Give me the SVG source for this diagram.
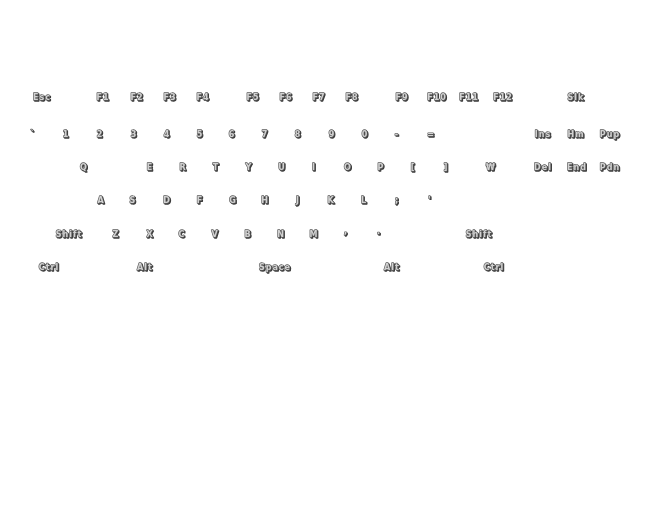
<svg xmlns="http://www.w3.org/2000/svg" width="660" height="521" viewBox="0 0 660 521">
<defs>
<filter id="sh" x="-20%" y="-40%" width="140%" height="180%">
<feDropShadow dx="1" dy="1" stdDeviation="0" flood-color="#3a3a3a" flood-opacity="1"/>
</filter>
<style>
text{font-family:"DejaVu Sans","Noto Sans",sans-serif;font-weight:bold;font-size:8px;letter-spacing:1px;text-anchor:middle;fill:#d2d2d2;stroke:#5a5a5a;stroke-width:1.3px;paint-order:stroke;stroke-linejoin:round;filter:url(#sh)}
</style>
</defs>
<rect width="660" height="521" fill="#ffffff"/>
<g id="row-fn">
<g id="k-esc"><text x="42" y="100">Esc</text></g>
<g id="k-f1"><text x="103" y="100">F1</text></g>
<g id="k-f2"><text x="137" y="100">F2</text></g>
<g id="k-f3"><text x="170" y="100">F3</text></g>
<g id="k-f4"><text x="203" y="100">F4</text></g>
<g id="k-f5"><text x="253" y="100">F5</text></g>
<g id="k-f6"><text x="286" y="100">F6</text></g>
<g id="k-f7"><text x="319" y="100">F7</text></g>
<g id="k-f8"><text x="352" y="100">F8</text></g>
<g id="k-f9"><text x="402" y="100">F9</text></g>
<g id="k-f10"><text x="437" y="100">F10</text></g>
<g id="k-f11"><text x="469" y="100">F11</text></g>
<g id="k-f12"><text x="503" y="100">F12</text></g>
<g id="k-slk"><text x="576" y="100">Slk</text></g>
</g>
<g id="row-num">
<g id="k-grave"><text x="33" y="137">`</text></g>
<g id="k-1"><text x="66" y="137">1</text></g>
<g id="k-2"><text x="100" y="137">2</text></g>
<g id="k-3"><text x="134" y="137">3</text></g>
<g id="k-4"><text x="167" y="137">4</text></g>
<g id="k-5"><text x="200" y="137">5</text></g>
<g id="k-6"><text x="232" y="137">6</text></g>
<g id="k-7"><text x="265" y="137">7</text></g>
<g id="k-8"><text x="298" y="137">8</text></g>
<g id="k-9"><text x="332" y="137">9</text></g>
<g id="k-0"><text x="365" y="137">0</text></g>
<g id="k-minus"><text x="397" y="137">-</text></g>
<g id="k-equal"><text x="431" y="137">=</text></g>
<g id="k-ins"><text x="543" y="137">Ins</text></g>
<g id="k-hm"><text x="576" y="137">Hm</text></g>
<g id="k-pup"><text x="610" y="137">Pup</text></g>
</g>
<g id="row-q">
<g id="k-q"><text x="84" y="170">Q</text></g>
<g id="k-e"><text x="150" y="170">E</text></g>
<g id="k-r"><text x="183" y="170">R</text></g>
<g id="k-t"><text x="216" y="170">T</text></g>
<g id="k-y"><text x="249" y="170">Y</text></g>
<g id="k-u"><text x="282" y="170">U</text></g>
<g id="k-i"><text x="314" y="170">I</text></g>
<g id="k-o"><text x="348" y="170">O</text></g>
<g id="k-p"><text x="381" y="170">P</text></g>
<g id="k-lbr"><text x="413" y="170">[</text></g>
<g id="k-rbr"><text x="446" y="170">]</text></g>
<g id="k-won"><text x="491" y="170">₩</text></g>
<g id="k-del"><text x="543" y="170">Del</text></g>
<g id="k-end"><text x="577" y="170">End</text></g>
<g id="k-pdn"><text x="610" y="170">Pdn</text></g>
</g>
<g id="row-a">
<g id="k-a"><text x="101" y="203">A</text></g>
<g id="k-s"><text x="133" y="203">S</text></g>
<g id="k-d"><text x="167" y="203">D</text></g>
<g id="k-f"><text x="200" y="203">F</text></g>
<g id="k-g"><text x="233" y="203">G</text></g>
<g id="k-h"><text x="265" y="203">H</text></g>
<g id="k-j"><text x="298" y="203">J</text></g>
<g id="k-k"><text x="331" y="203">K</text></g>
<g id="k-l"><text x="364" y="203">L</text></g>
<g id="k-semi"><text x="397" y="203">;</text></g>
<g id="k-quote"><text x="430" y="203">'</text></g>
</g>
<g id="row-z">
<g id="k-lshift"><text x="69" y="237">Shift</text></g>
<g id="k-z"><text x="116" y="237">Z</text></g>
<g id="k-x"><text x="150" y="237">X</text></g>
<g id="k-c"><text x="182" y="237">C</text></g>
<g id="k-v"><text x="215" y="237">V</text></g>
<g id="k-b"><text x="248" y="237">B</text></g>
<g id="k-n"><text x="281" y="237">N</text></g>
<g id="k-m"><text x="314" y="237">M</text></g>
<g id="k-comma"><text x="346" y="234">,</text></g>
<g id="k-period"><text x="379" y="234">.</text></g>
<g id="k-rshift"><text x="479" y="237">Shift</text></g>
</g>
<g id="row-bottom">
<g id="k-lctrl"><text x="49" y="270">Ctrl</text></g>
<g id="k-lalt"><text x="145" y="270">Alt</text></g>
<g id="k-space"><text x="275" y="270">Space</text></g>
<g id="k-ralt"><text x="392" y="270">Alt</text></g>
<g id="k-rctrl"><text x="494" y="270">Ctrl</text></g>
</g>
<g id="connectors"></g>
</svg>
